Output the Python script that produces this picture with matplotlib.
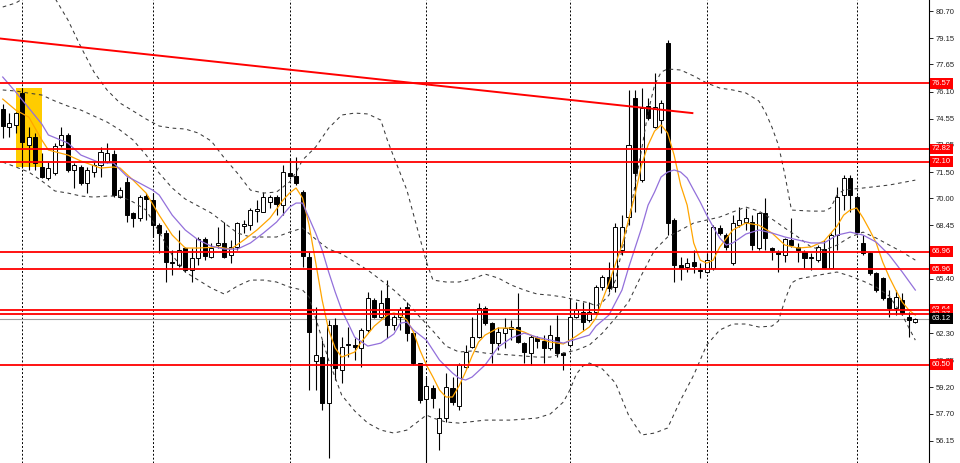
import matplotlib
matplotlib.use('Agg')
import matplotlib.pyplot as plt
import matplotlib.transforms as mtransforms
from matplotlib.patches import Rectangle

# candles (price)
opens = [75.10, 74.07, 74.19, 76.02, 73.04, 73.50, 71.79, 71.16, 71.44, 73.04,
         73.62, 71.62, 71.79, 70.87, 71.50, 71.90, 72.07, 72.53, 70.07, 70.93,
         69.16, 68.87, 70.13, 69.90, 68.47, 68.02, 66.36, 66.19, 67.16, 65.90,
         66.59, 67.67, 66.65, 67.33, 67.45, 66.76, 67.22, 68.41, 68.47, 69.27,
         69.22, 69.79, 70.07, 69.61, 71.44, 71.27, 70.36, 66.65, 60.70, 60.93,
         58.30, 62.76, 60.19, 61.62, 61.62, 61.45, 62.48, 64.19, 63.22, 64.30,
         62.76, 63.22, 63.79, 62.30, 60.59, 58.53, 59.16, 56.59, 57.45, 59.16,
         58.13, 60.36, 61.50, 62.07, 63.73, 62.87, 61.73, 62.30, 62.53, 62.65,
         61.73, 61.16, 62.02, 61.85, 61.45, 62.07, 61.16, 61.62, 63.22, 63.50,
         63.05, 63.50, 64.93, 65.50, 64.93, 67.04, 68.93, 75.73, 71.04, 75.27,
         74.07, 74.47, 78.87, 68.76, 66.19, 66.07, 66.36, 65.90, 65.79, 66.02,
         68.30, 67.90, 66.30, 68.47, 68.64, 68.64, 67.16, 69.16, 67.16, 66.93,
         66.76, 67.62, 67.22, 66.93, 66.65, 66.47, 67.10, 66.02, 67.90, 70.19,
         71.16, 70.07, 67.45, 66.87, 65.73, 65.45, 64.30, 63.73, 64.19, 63.22,
         62.93]
highs = [75.39, 74.87, 74.93, 76.30, 74.07, 73.73, 72.59, 72.07, 73.16, 74.07,
         73.73, 72.02, 71.90, 71.79, 72.07, 72.93, 73.16, 72.76, 70.64, 71.22,
         69.22, 70.19, 70.30, 70.30, 68.59, 68.19, 67.04, 68.19, 67.22, 67.16,
         67.79, 67.79, 67.45, 68.36, 68.64, 67.62, 68.64, 68.76, 69.45, 69.90,
         70.36, 70.19, 70.19, 71.90, 72.30, 72.36, 70.47, 66.93, 63.79, 61.90,
         63.05, 63.16, 62.07, 62.65, 62.02, 62.59, 64.65, 64.30, 64.76, 65.33,
         63.33, 63.79, 64.07, 62.36, 60.59, 59.79, 59.33, 58.02, 60.02, 59.79,
         60.59, 61.62, 63.22, 64.02, 63.85, 62.93, 62.65, 63.16, 63.05, 64.59,
         61.79, 62.19, 62.13, 62.19, 62.76, 63.33, 61.22, 64.30, 64.07, 64.07,
         64.07, 65.05, 65.62, 66.36, 68.59, 69.04, 76.19, 76.19, 76.30, 75.73,
         77.16, 75.61, 79.04, 68.87, 66.65, 66.59, 67.04, 66.30, 66.87, 68.47,
         68.47, 68.02, 69.04, 69.50, 69.45, 69.04, 69.22, 70.02, 67.22, 67.04,
         67.73, 68.87, 67.45, 67.04, 66.87, 67.33, 67.62, 68.02, 70.64, 71.33,
         71.33, 70.19, 67.90, 66.93, 65.79, 65.50, 64.76, 64.76, 64.59, 63.50,
         63.16]
lows = [73.44, 73.50, 73.73, 71.73, 71.62, 71.62, 71.16, 71.04, 71.33, 72.93,
        71.50, 70.59, 70.76, 70.30, 71.22, 71.22, 72.02, 70.07, 70.02, 68.64,
        68.36, 68.70, 68.76, 67.79, 66.87, 65.22, 65.62, 66.07, 65.79, 65.22,
        66.19, 66.47, 66.59, 67.16, 66.59, 66.30, 67.04, 68.02, 68.19, 68.64,
        69.22, 69.45, 69.04, 69.04, 71.22, 70.76, 66.07, 59.05, 59.05, 57.91,
        55.16, 59.62, 59.45, 60.93, 60.76, 60.36, 62.36, 63.16, 63.16, 62.02,
        62.48, 62.48, 61.85, 60.48, 58.30, 54.93, 58.02, 55.62, 57.22, 58.19,
        57.91, 60.31, 61.45, 62.02, 62.76, 60.59, 61.33, 61.45, 61.90, 61.73,
        60.59, 60.48, 61.45, 60.59, 61.33, 60.93, 60.19, 61.50, 63.16, 62.48,
        62.93, 63.45, 64.76, 64.65, 64.65, 66.76, 68.47, 69.22, 70.93, 74.47,
        74.02, 73.73, 67.90, 65.22, 65.33, 65.79, 65.73, 65.45, 65.73, 65.90,
        67.90, 67.04, 66.19, 68.36, 68.19, 67.04, 67.04, 67.04, 66.47, 65.79,
        66.36, 67.22, 66.36, 66.02, 65.90, 66.36, 66.02, 66.02, 67.04, 69.33,
        69.22, 67.90, 66.76, 65.62, 64.65, 64.19, 63.22, 63.33, 63.33, 62.07,
        62.87]
closes = [74.13, 74.30, 74.87, 73.22, 73.50, 72.02, 71.22, 71.73, 72.99, 73.62,
          71.62, 71.90, 70.87, 71.62, 71.90, 72.64, 72.59, 70.19, 70.47, 69.04,
          68.87, 70.07, 69.96, 68.47, 68.02, 66.36, 66.30, 67.04, 65.90, 66.59,
          67.67, 66.70, 67.16, 67.45, 66.65, 67.22, 68.59, 68.53, 69.33, 69.39,
          70.07, 70.07, 69.67, 71.50, 71.27, 70.87, 66.70, 62.36, 61.05, 58.30,
          62.76, 60.31, 61.50, 61.68, 61.50, 62.48, 64.30, 63.22, 64.02, 62.76,
          63.22, 63.62, 62.30, 60.59, 58.48, 59.28, 58.59, 57.45, 59.22, 58.36,
          60.48, 61.22, 62.07, 63.73, 62.87, 61.73, 62.36, 62.59, 62.65, 61.79,
          61.22, 62.07, 61.85, 61.45, 62.19, 61.16, 61.05, 63.22, 63.62, 62.93,
          63.50, 64.93, 65.50, 64.87, 68.36, 68.36, 73.04, 71.44, 75.16, 74.59,
          75.22, 75.44, 68.59, 66.19, 66.02, 66.30, 66.13, 65.84, 66.47, 68.36,
          68.02, 67.22, 68.59, 68.76, 68.87, 67.33, 69.16, 67.73, 67.04, 66.82,
          67.67, 67.33, 67.04, 66.59, 66.59, 67.22, 66.02, 67.90, 70.07, 71.16,
          70.19, 68.07, 66.87, 65.73, 64.76, 64.30, 63.73, 64.36, 63.45, 63.05,
          63.10]

# fast MA (orange), read at bar indices
ma_fast_idx = [0, 2, 4, 6, 7, 10, 12, 15, 17, 18, 20, 22, 24, 26, 28, 30, 33, 35, 37, 39,
               41, 43, 44, 45, 46, 47, 48, 49, 50, 51, 52, 54, 55, 57, 59, 60, 61, 62, 63, 64,
               65, 66, 67, 68, 69, 70, 71, 72, 73, 74, 76, 78, 80, 82, 84, 86, 87, 88, 90, 91,
               92, 93, 94, 95, 96, 97, 98, 99, 100, 101, 102, 103, 104, 105, 106, 107, 108, 109, 110, 112,
               114, 116, 118, 120, 122, 124, 126, 128, 129, 130, 131, 132, 133, 134, 135, 136, 137, 138, 139, 140]
ma_fast = [75.67, 75.04, 74.64, 73.33, 72.76, 72.47, 72.13, 71.73, 71.79, 71.73,
           71.04, 70.30, 69.04, 67.90, 67.16, 67.16, 67.22, 67.10, 67.62, 68.19,
           68.87, 69.90, 70.30, 70.59, 70.02, 68.47, 66.36, 64.19, 62.48, 61.45,
           60.93, 61.22, 61.79, 62.70, 63.33, 63.45, 63.33, 63.05, 62.36, 61.33,
           60.48, 59.79, 59.05, 58.65, 58.65, 59.28, 60.08, 60.99, 61.79, 62.19,
           62.59, 62.59, 62.36, 62.02, 61.79, 61.68, 61.90, 62.13, 62.65, 63.16,
           64.19, 65.16, 66.25, 67.33, 68.76, 70.19, 71.90, 73.04, 73.84, 74.19,
           73.73, 72.47, 70.76, 69.61, 67.45, 66.47, 66.30, 66.47, 67.22, 68.19,
           68.59, 68.47, 68.02, 67.33, 67.16, 67.22, 67.56, 68.42, 69.04, 69.33,
           69.45, 68.87, 68.19, 67.45, 66.36, 65.50, 64.76, 64.07, 63.62, 63.33]

# slow MA (purple)
ma_slow_idx = [0, 2, 4, 6, 7, 10, 12, 15, 17, 19, 21, 23, 24, 26, 28, 30, 32, 34, 36, 38,
               40, 42, 44, 45, 46, 47, 48, 49, 50, 51, 52, 54, 56, 58, 60, 61, 62, 63, 65, 67,
               69, 70, 71, 72, 74, 76, 78, 80, 82, 84, 86, 88, 90, 91, 93, 95, 96, 97, 98, 99,
               100, 101, 102, 103, 104, 105, 106, 107, 108, 109, 110, 111, 112, 114, 116, 118, 120, 122, 124, 126,
               128, 130, 132, 134, 136, 138, 140]
ma_slow = [76.93, 76.07, 75.16, 74.24, 73.62, 73.16, 72.47, 72.02, 72.02, 71.27,
           70.87, 70.47, 70.19, 69.04, 68.19, 67.62, 67.27, 67.10, 67.10, 67.45,
           68.02, 68.64, 69.50, 69.73, 69.73, 68.87, 68.02, 67.04, 65.79, 64.65,
           63.62, 62.07, 61.56, 61.73, 62.25, 62.87, 62.93, 62.48, 61.90, 60.76,
           60.02, 59.73, 59.62, 59.79, 60.48, 61.50, 62.02, 62.30, 62.07, 61.90,
           61.73, 61.96, 62.19, 62.70, 63.33, 64.76, 66.02, 67.16, 68.30, 69.61,
           70.36, 71.22, 71.50, 71.62, 71.50, 71.16, 70.47, 69.79, 69.04, 68.36,
           67.73, 67.33, 67.45, 67.96, 68.19, 68.02, 67.79, 67.62, 67.45, 67.45,
           67.90, 68.07, 67.90, 67.50, 66.76, 65.79, 64.76]

# bollinger bands (dashed), read at bar indices
bb_up_idx = [0, 2, 4, 6, 8, 10, 12, 14, 16, 18, 20, 22, 24, 26, 28, 30, 32, 34, 36, 38,
             40, 42, 44, 45, 46, 48, 50, 52, 54, 56, 58, 59, 60, 62, 64, 65, 66, 68, 70, 72,
             74, 76, 78, 80, 82, 84, 86, 88, 90, 91, 92, 93, 94, 95, 96, 97, 98, 99, 100, 101,
             102, 104, 106, 108, 110, 112, 114, 116, 117, 118, 119, 120, 121, 124, 126, 127, 128, 129, 132, 136,
             140]
bb_up = [80.93, 81.16, 81.61, 82.19, 81.44, 80.19, 78.64, 77.21, 76.19, 75.44,
         74.99, 74.53, 74.13, 74.01, 73.96, 73.73, 73.27, 72.30, 71.44, 70.47,
         70.30, 70.36, 70.93, 71.50, 72.19, 72.93, 74.01, 74.76, 74.87, 74.82,
         74.47, 73.33, 72.36, 70.47, 67.73, 66.36, 65.33, 65.22, 65.22, 65.39,
         65.67, 65.45, 65.05, 64.76, 64.53, 64.47, 64.36, 64.19, 64.02, 63.85,
         64.07, 64.47, 65.33, 67.04, 68.64, 70.76, 72.76, 74.93, 76.47, 77.21,
         77.39, 77.33, 76.99, 76.59, 76.30, 76.19, 76.02, 75.56, 74.93, 74.07,
         73.04, 71.33, 69.33, 69.27, 69.27, 69.45, 70.19, 70.47, 70.59, 70.76,
         71.04]
bb_mid_idx = list(range(0, 141, 2))
bb_mid = [76.19, 76.13, 76.01, 75.90, 75.56, 75.27, 75.04, 74.70, 74.36, 73.90,
          73.33, 72.47, 71.44, 70.59, 69.96, 69.56, 69.16, 68.59, 68.02, 67.79,
          67.79, 67.79, 68.07, 68.30, 67.67, 67.10, 66.82, 66.36, 65.90, 65.33,
          64.76, 64.07, 63.22, 62.42, 61.56, 61.22, 61.28, 61.16, 61.10, 61.05,
          60.99, 60.93, 60.93, 61.16, 61.33, 61.62, 62.30, 63.16, 64.07, 65.62,
          67.04, 67.79, 68.19, 68.59, 68.76, 68.93, 69.22, 69.50, 69.27, 68.82,
          68.30, 67.79, 67.22, 67.04, 67.33, 67.79, 68.07, 67.73, 67.33, 66.93,
          66.47]
bb_dn_idx = [0, 2, 4, 6, 8, 10, 12, 14, 16, 18, 20, 22, 24, 26, 28, 30, 32, 34, 36, 38,
             40, 42, 44, 46, 47, 48, 50, 52, 54, 56, 58, 60, 62, 64, 65, 66, 68, 70, 74, 78,
             82, 84, 86, 87, 88, 89, 90, 92, 94, 96, 98, 100, 102, 104, 106, 108, 110, 112, 114, 116,
             118, 119, 120, 121, 122, 126, 128, 130, 132, 134, 136, 138, 140]
bb_dn = [72.07, 71.79, 71.50, 70.99, 70.42, 70.30, 70.13, 70.07, 70.13, 70.13,
         69.79, 69.33, 68.07, 66.76, 65.79, 65.33, 64.87, 64.53, 64.99, 65.33,
         65.33, 65.22, 64.93, 64.76, 64.36, 63.16, 60.76, 58.76, 57.85, 57.16,
         56.76, 56.59, 56.76, 57.33, 57.62, 57.45, 57.22, 57.16, 57.33, 57.33,
         57.45, 57.68, 58.36, 59.05, 59.96, 60.42, 60.59, 60.25, 59.45, 57.62,
         56.48, 56.59, 56.88, 58.48, 59.90, 61.62, 62.48, 62.82, 62.82, 62.65,
         62.70, 62.99, 64.19, 65.16, 65.39, 65.67, 65.79, 65.56, 65.27, 64.93,
         64.42, 63.33, 61.90]

# horizontal levels
levels = [76.57, 72.82, 72.10, 66.96, 65.96, 63.64, 63.37, 60.50]
level_labels = ['76.57', '72.82', '72.10', '66.96', '65.96', '63.64', '63.37', '60.50']
bid = 63.12
bid_label = '63.12'

# trend line (bar index, price)
trend_x = [-0.42, 105.8]
trend_y = [79.13, 74.87]

# highlighted box
box_x = [1.97, 5.97]
box_y = [71.79, 76.30]

separators = [3, 23, 44, 65, 87, 108, 131]

yticks = [80.70, 79.15, 77.65, 76.10, 74.55, 73.05, 71.50, 70.00, 68.45, 66.90,
          65.40, 63.85, 62.30, 60.75, 59.20, 57.70, 56.15]
hidden_ticks = [66.90, 63.85]

fig = plt.figure(figsize=(9.6, 4.63), dpi=100)
ax = fig.add_axes([0, 0, 929 / 960, 1])
ax.set_xlim(-0.42, 142.1)
ax.set_ylim(54.88, 81.33)

for s in ['left', 'top', 'bottom']:
    ax.spines[s].set_visible(False)
ax.spines['right'].set_linewidth(0.8)
ax.set_xticks([])
ax.yaxis.tick_right()
ax.set_yticks(yticks)
ax.set_yticklabels(['' if t in hidden_ticks else f'{t:.2f}' for t in yticks])
ax.tick_params(axis='y', direction='out', length=3, width=0.7, pad=1.5,
               labelsize=5.5, colors='#222222', labelfontfamily='Liberation Sans')

ax.add_patch(Rectangle((box_x[0], box_y[0]), box_x[1] - box_x[0], box_y[1] - box_y[0],
                       facecolor='#FFCC00', edgecolor='none', zorder=1))

for s in separators:
    ax.axvline(s, color='black', lw=0.7, ls=(0, (2, 2)), zorder=1.5)

# candles
w = 0.62
for i in range(len(opens)):
    o, h, l, c = opens[i], highs[i], lows[i], closes[i]
    ax.plot([i, i], [l, h], color='black', lw=0.8, zorder=3, solid_capstyle='butt')
    bottom = min(o, c)
    height = max(abs(c - o), 0.06)
    fc = 'white' if c >= o else 'black'
    ax.add_patch(Rectangle((i - w / 2, bottom), w, height, facecolor=fc,
                           edgecolor='black', lw=0.7, zorder=3.2))

for bx, by in [(bb_up_idx, bb_up), (bb_mid_idx, bb_mid), (bb_dn_idx, bb_dn)]:
    ax.plot(bx, by, color='#3a3a3a', lw=0.75, ls=(0, (3.5, 3.5)), zorder=3.5)

ax.plot(ma_fast_idx, ma_fast, color='#FFA500', lw=0.9, zorder=4)
ax.plot(ma_slow_idx, ma_slow, color='#9370DB', lw=0.9, zorder=4)

ax.axhline(bid, color='#A0A0A0', lw=0.8, zorder=2)
for lv in levels:
    ax.axhline(lv, color='#FF0000', lw=1.3, zorder=5)
ax.plot(trend_x, trend_y, color='#FF0000', lw=1.4, zorder=5)

trans = mtransforms.blended_transform_factory(ax.transAxes, ax.transData)
for lv, lab in zip(levels, level_labels):
    ax.text(1.0 + 3 / 929, lv, lab, transform=trans, ha='left', va='center',
            fontsize=5.5, family='Liberation Sans', color='white', zorder=10,
            clip_on=False,
            bbox=dict(boxstyle='square,pad=0.25', fc='#FF0000', ec='none'))
ax.text(1.0 + 3 / 929, bid, bid_label, transform=trans, ha='left', va='center',
        fontsize=5.5, family='Liberation Sans', color='white', zorder=10,
        clip_on=False, bbox=dict(boxstyle='square,pad=0.25', fc='black', ec='none'))

fig.savefig('out.png', dpi=100)
